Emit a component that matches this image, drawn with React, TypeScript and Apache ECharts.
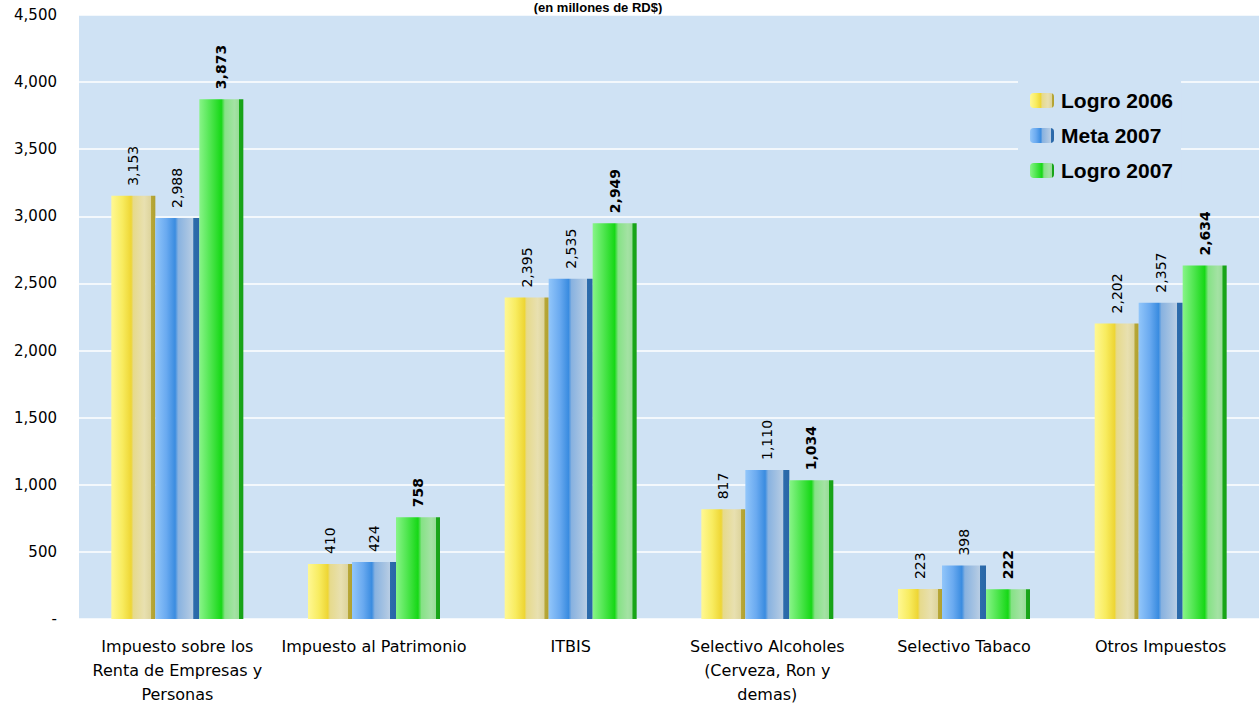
import React, { useEffect, useRef } from "react";
import * as echarts from "echarts";

const categories = [
  "Impuesto sobre los\nRenta de Empresas y\nPersonas",
  "Impuesto al Patrimonio",
  "ITBIS",
  "Selectivo Alcoholes\n(Cerveza, Ron y\ndemas)",
  "Selectivo Tabaco",
  "Otros Impuestos",
];
const logro2006 = [3153, 410, 2395, 817, 223, 2202];
const meta2007 = [2988, 424, 2535, 1110, 398, 2357];
const logro2007 = [3873, 758, 2949, 1034, 222, 2634];
const yTicks = { min: 0, max: 4500, interval: 500 };

const grad = (stops: [number, string][]) =>
  new echarts.graphic.LinearGradient(
    0, 0, 1, 0,
    stops.map(([offset, color]) => ({ offset, color }))
  );

const yellowGrad = () =>
  grad([
    [0, "#fff894"], [0.25, "#f8ec60"], [0.45, "#eed634"], [0.5, "#e6da8c"],
    [0.75, "#e8e0b0"], [0.9, "#ddd49c"], [0.91, "#b8a838"], [1, "#b0a030"],
  ]);
const blueGrad = () =>
  grad([
    [0, "#92c6fa"], [0.25, "#6aaaf0"], [0.45, "#3a8ce0"], [0.52, "#88b2e0"],
    [0.75, "#a8c4e2"], [0.86, "#b8cde4"], [0.87, "#2c6cac"], [1, "#2a66a6"],
  ]);
const greenGrad = () =>
  grad([
    [0, "#88f488"], [0.25, "#50e650"], [0.5, "#16d816"], [0.58, "#86e286"],
    [0.8, "#a4e2a4"], [0.9, "#98dc98"], [0.91, "#18a818"], [1, "#18a018"],
  ]);

const fmt = (v: number) => v.toLocaleString("en-US");

export default function App() {
  const ref = useRef<HTMLDivElement>(null);
  useEffect(() => {
    const chart = echarts.init(ref.current!, null, { renderer: "svg" });
    const labelBase = {
      show: true,
      position: "top" as const,
      rotate: 90,
      align: "left" as const,
      verticalAlign: "middle" as const,
      distance: 10,
      fontFamily: "DejaVu Sans",
      fontSize: 14,
      color: "#000",
      formatter: (p: any) => fmt(p.value),
    };
    const mk = (name: string, data: number[], color: any, bold: boolean) => ({
      name,
      type: "bar",
      data,
      barWidth: 44,
      barGap: "0%",
      itemStyle: { color },
      label: { ...labelBase, fontWeight: bold ? "bold" : "normal" },
    });
    chart.setOption({
      animation: false,
      backgroundColor: "#ffffff",
      graphic: [
        {
          type: "text",
          x: 598,
          y: 1,
          style: {
            text: "(en millones de RD$)",
            font: "bold 13px 'Liberation Sans', Arial",
            fill: "#000",
            align: "center",
            verticalAlign: "top",
          },
        },
      ],
      legend: {
        left: 1018,
        top: 80,
        orient: "vertical",
        backgroundColor: "#cfe2f4",
        padding: [10, 8, 12, 12],
        itemWidth: 24,
        itemHeight: 15,
        itemGap: 14,
        textStyle: {
          fontFamily: "'Liberation Sans', Arial",
          fontWeight: "bold",
          fontSize: 21,
          color: "#000",
          padding: [0, 0, 0, 2],
        },
        data: ["Logro 2006", "Meta 2007", "Logro 2007"],
      },
      grid: {
        left: 79,
        right: 0,
        top: 15,
        bottom: 86,
        show: true,
        backgroundColor: "#cfe2f4",
        borderWidth: 0,
      },
      xAxis: {
        type: "category",
        data: categories,
        axisLine: { show: false },
        axisTick: { show: false },
        axisLabel: {
          interval: 0,
          margin: 15,
          fontFamily: "DejaVu Sans",
          fontSize: 16,
          lineHeight: 24,
          color: "#000",
          verticalAlign: "top",
        },
      },
      yAxis: {
        type: "value",
        min: yTicks.min,
        max: yTicks.max,
        interval: yTicks.interval,
        axisLine: { show: false },
        axisTick: { show: false },
        splitLine: { show: true, lineStyle: { color: "#ffffff", width: 1.5 } },
        axisLabel: {
          margin: 22,
          fontFamily: "DejaVu Sans",
          fontSize: 15,
          color: "#000",
          formatter: (v: number) => (v === 0 ? "-" : fmt(v)),
        },
      },
      series: [
        mk("Logro 2006", logro2006, yellowGrad(), false),
        mk("Meta 2007", meta2007, blueGrad(), false),
        mk("Logro 2007", logro2007, greenGrad(), true),
      ],
    });
    return () => chart.dispose();
  }, []);
  return (
    <div
      ref={ref}
      style={{ position: "fixed", left: 0, top: 0, width: 1259, height: 706 }}
    />
  );
}
